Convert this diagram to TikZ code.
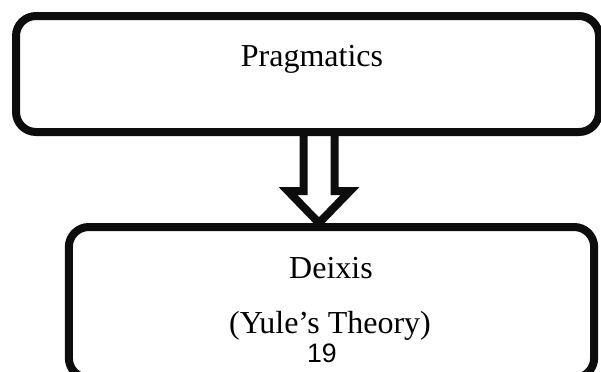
\documentclass[tikz,border=0pt]{standalone}
\usepackage{fontspec}
\setmainfont{Liberation Serif}
\newfontfamily\pagefont{Liberation Sans}
\usetikzlibrary{positioning, calc}

\begin{document}
\begin{tikzpicture}[x=0.75pt, y=-0.75pt,
  boxline/.style={draw=black!95, line width=6pt, rounded corners=15pt, inner sep=0pt},
  boxtext/.style={anchor=base, inner sep=0pt, font=\fontsize{24}{28}\selectfont}]
  \useasboundingbox (0,0) rectangle (601,372);
  % boxes
  \node[boxline, minimum width=437.25pt, minimum height=87pt] (prag) at (307.5,74) {};
  \node[boxline, minimum width=394pt, minimum height=113.25pt] (deix) at (331.5,302.5) {};
  \node[boxtext] (pragtext) at (312,66) {Pragmatics};
  \node[boxtext] (deixtext) at (331,278) {Deixis};
  \node[boxtext] (yule) at (330,333) {(Yule’s Theory)};
  \node[anchor=base, inner sep=0pt, font=\pagefont\fontsize{20}{24}\selectfont] (page) at (322,362) {19};
  % hollow arrow
  \coordinate (shaft) at (319,132);
  \draw[black!95, line width=6pt, line join=miter]
    ($(shaft)+(-15.5,0)$) -- ($(shaft)+(-15.5,59)$) -- ($(shaft)+(-31,59)$)
    -- (shaft |- deix.north) -- ($(shaft)+(31,59)$) -- ($(shaft)+(15.5,59)$)
    -- ($(shaft)+(15.5,0)$);
\end{tikzpicture}
\end{document}
